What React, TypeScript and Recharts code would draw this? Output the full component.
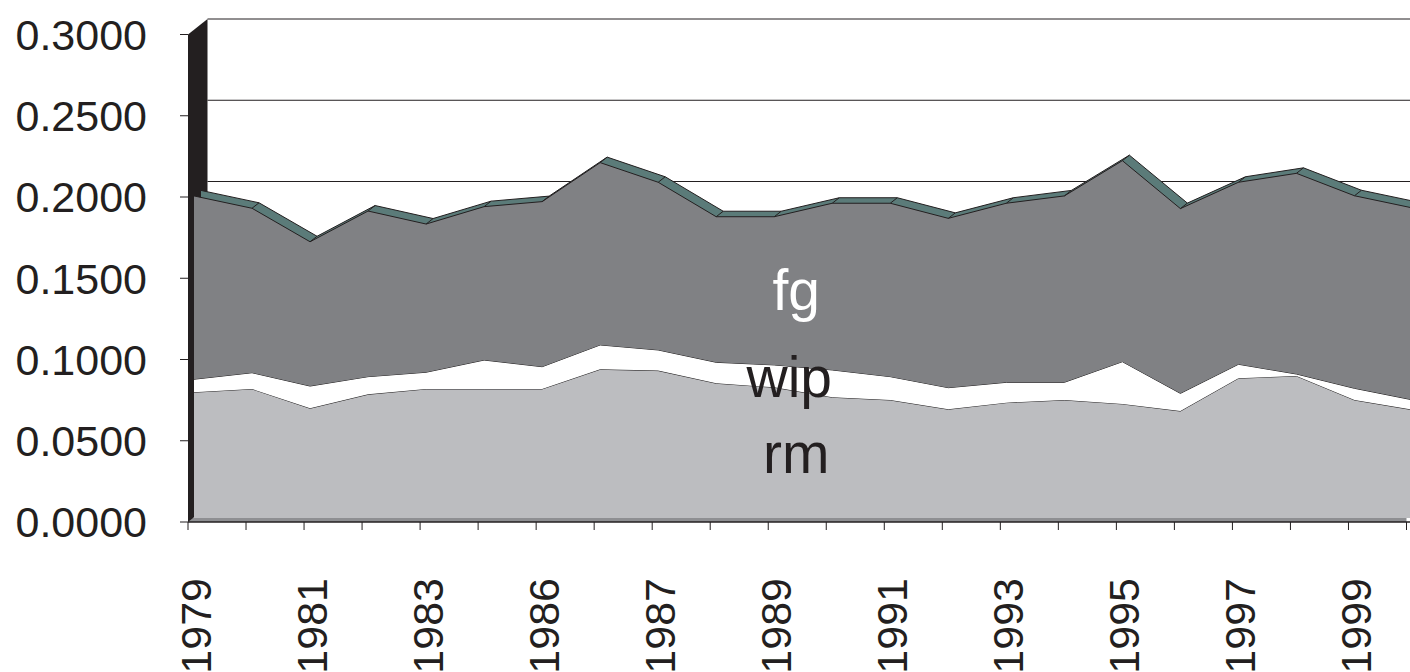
import { AreaChart, Area, XAxis, YAxis, ReferenceArea, ReferenceDot } from 'recharts';

// category labels (only every other one is printed on the axis)
const years = [
  '1979', '1980', '1981', '1982', '1983', '1985', '1986', '1986', '1987', '1988', '1989',
  '1990', '1991', '1992', '1993', '1994', '1995', '1996', '1997', '1998', '1999', '2000',
];

// raw materials
const rm = [
  0.0774, 0.0794, 0.0675, 0.0761, 0.0794, 0.0794, 0.0794, 0.0915, 0.0907, 0.0829, 0.0804,
  0.0743, 0.0726, 0.0669, 0.071, 0.0726, 0.0702, 0.0658, 0.086, 0.0874, 0.0726, 0.0666,
];

// work in progress
const wip = [
  0.008, 0.01, 0.0137, 0.0109, 0.0103, 0.0178, 0.0137, 0.015, 0.0127, 0.0129, 0.0138,
  0.0168, 0.0144, 0.0133, 0.0125, 0.0109, 0.026, 0.0109, 0.0086, 0.0012, 0.0072, 0.0061,
];

// finished goods
const fg = [
  0.1128, 0.1012, 0.0888, 0.1019, 0.0912, 0.0944, 0.1016, 0.1122, 0.1032, 0.0896, 0.0912,
  0.1026, 0.1067, 0.1042, 0.1102, 0.1147, 0.1237, 0.1137, 0.112, 0.1235, 0.1185, 0.1181,
];

const yTicks = [0, 0.05, 0.1, 0.15, 0.2, 0.25, 0.3];

const data = years.map((year, i) => ({
  i,
  year,
  rm: rm[i],
  wip: wip[i],
  fg: fg[i],
  total: rm[i] + wip[i] + fg[i],
}));

const FONT = '"Liberation Sans", Arial, sans-serif';
const INK = '#231f20';

// px per unit on the value axis, depth of the back wall
const PX = 1625;
const DEPTH = 15.5;
const PLOT_H = 503;
const BACK = DEPTH / PX;

const YearTick = ({ x, y, payload }: any) => {
  const i = payload.value;
  if (i % 2 !== 0) return <g />;
  return (
    <g transform={`translate(${x + 23},${y})`}>
      <text transform="rotate(-90)" textAnchor="end" fontSize={43} fill={INK} fontFamily={FONT}>
        {years[i]}
      </text>
    </g>
  );
};

// grid lines on the back wall: 0.20 / 0.25 / 0.30
const BackGrid = (props: any) => {
  const { x, y, width, height } = props;
  const x0 = x + 19.5;
  const x1 = x + width + 4;
  return (
    <g stroke={INK} strokeWidth={1}>
      <line x1={x0} y1={y} x2={x1} y2={y} />
      <line x1={x0} y1={y + height / 2} x2={x1} y2={y + height / 2} />
      <line x1={x0} y1={y + height} x2={x1} y2={y + height} />
    </g>
  );
};

const Wall = (props: any) => {
  const { x, y, height } = props;
  const pts = (arr: number[][]) => arr.map((p) => p.join(',')).join(' ');
  return (
    <polygon
      points={pts([[x, y + height], [x, y], [x + 19.5, y - DEPTH], [x + 19.5, y + height - DEPTH]])}
      fill={INK}
    />
  );
};

// joins the front and back vertex of the top face of the stack
const BevelEdge = (props: any) => {
  const { cx, cy, index } = props;
  return <line key={`e-${index}`} x1={cx + 13} y1={cy - 9.5} x2={cx + 6} y2={cy - 4} stroke={INK} strokeWidth={1} />;
};

const textLabel = (text: string, color: string, dx: number) => (props: any) => (
  <text x={props.cx + dx} y={props.cy} textAnchor="middle" fontSize={57} fill={color} fontFamily={FONT}>
    {text}
  </text>
);

export default function App() {
  return (
    <div style={{ position: 'absolute', left: 0, top: 0, background: '#fff', fontFamily: FONT }}>
      <style>{`
        .series-plane { transform: translate(6px, -4px); }
        .series-top { transform: translate(13px, -9.5px); }
      `}</style>
      <AreaChart width={1410} height={672} data={data} margin={{ top: 19, right: 0, bottom: 0, left: 0 }}>
        <XAxis
          dataKey="i"
          type="number"
          domain={[0, 21]}
          ticks={data.map((d) => d.i)}
          interval={0}
          padding={{ left: 0, right: 3.5 }}
          height={150}
          axisLine={{ stroke: INK, strokeWidth: 1.5 }}
          tickLine={{ stroke: INK }}
          tickSize={8}
          tickMargin={48}
          tick={<YearTick />}
        />
        <YAxis
          yAxisId="front"
          width={188}
          domain={[0, PLOT_H / PX]}
          ticks={yTicks}
          interval={0}
          axisLine={false}
          tickLine={{ stroke: INK }}
          tickSize={8}
          tickMargin={33}
          tickFormatter={(v: number) => v.toFixed(4)}
          tick={{ fontSize: 43, fill: INK, fontFamily: FONT }}
        />
        <ReferenceArea
          yAxisId="front"
          x1={0}
          x2={21}
          y1={0.2 + BACK}
          y2={0.3 + BACK}
          ifOverflow="visible"
          shape={<BackGrid />}
        />
        <ReferenceArea
          yAxisId="front"
          x1={0}
          x2={21}
          y1={0}
          y2={4 / PX}
          ifOverflow="visible"
          fill="#8e8f92"
          fillOpacity={1}
          stroke="none"
        />
        <ReferenceArea yAxisId="front" x1={0} x2={1} y1={0} y2={0.3} ifOverflow="visible" shape={<Wall />} />
        <Area
          yAxisId="front"
          className="series-top"
          type="linear"
          dataKey="total"
          fill="#5b7b79"
          fillOpacity={1}
          stroke={INK}
          strokeWidth={1}
          dot={BevelEdge}
          activeDot={false}
          isAnimationActive={false}
        />
        <Area
          yAxisId="front"
          className="series-plane"
          type="linear"
          dataKey="rm"
          stackId="s"
          fill="#bcbdc0"
          fillOpacity={1}
          stroke={INK}
          strokeWidth={1}
          activeDot={false}
          isAnimationActive={false}
        />
        <Area
          yAxisId="front"
          className="series-plane"
          type="linear"
          dataKey="wip"
          stackId="s"
          fill="#ffffff"
          fillOpacity={1}
          stroke={INK}
          strokeWidth={1}
          activeDot={false}
          isAnimationActive={false}
        />
        <Area
          yAxisId="front"
          className="series-plane"
          type="linear"
          dataKey="fg"
          stackId="s"
          fill="#808184"
          fillOpacity={1}
          stroke={INK}
          strokeWidth={1}
          activeDot={false}
          isAnimationActive={false}
        />
        <ReferenceDot yAxisId="front" x={10} y={0.1305} r={0} shape={textLabel('fg', '#ffffff', 28)} />
        <ReferenceDot yAxisId="front" x={10} y={0.0769} r={0} shape={textLabel('wip', INK, 21)} />
        <ReferenceDot yAxisId="front" x={10} y={0.0302} r={0} shape={textLabel('rm', INK, 28)} />
      </AreaChart>
    </div>
  );
}
